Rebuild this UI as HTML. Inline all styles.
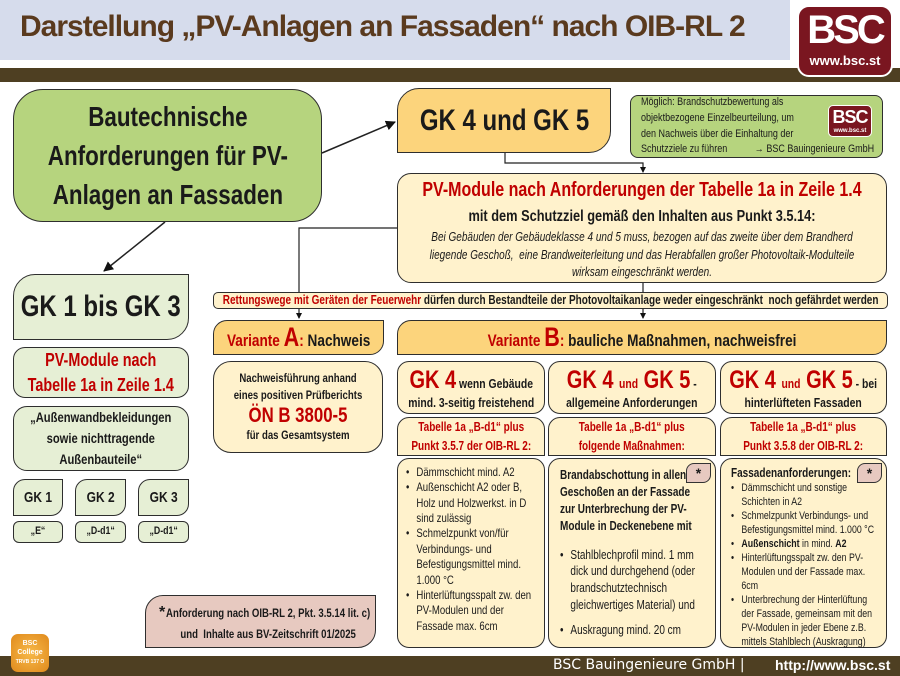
<!DOCTYPE html>
<html><head><meta charset="utf-8">
<style>
*{margin:0;padding:0;box-sizing:border-box}
body{width:900px;height:676px;position:relative;background:#fff;overflow:hidden;font-family:"Liberation Sans",sans-serif;color:#1a1a1a}
.b{position:absolute;border:1.5px solid #2e2e2e;display:flex;flex-direction:column;justify-content:center;align-items:center;text-align:center;line-height:1.2}
.n{width:125%;flex:none;transform:scaleX(.8);transform-origin:center}
.nl{width:125%;flex:none;transform:scaleX(.8);transform-origin:left top;text-align:left}
.r{color:#c00000}
.g{background:#e6efd5}
.y{background:#fff2cc}
.o{background:#fcd47c}
.tl{border-radius:22px 0 22px 0}
ul{list-style:none}
li{position:relative;padding-left:13px}
li:before{content:"•";position:absolute;left:0}
.t{position:absolute}
.st{position:absolute;right:4px;top:4px;width:25px;height:20px;background:#e7c9c0;border:1.2px solid #333;border-radius:8px 0 8px 0;font-size:14px;font-weight:bold;text-align:center;line-height:18px}
</style></head><body>
<div style="position:absolute;left:0;top:0;width:790px;height:60px;background:#d6dcec"></div>
<div class="t" style="left:20px;top:10px;font-weight:bold;font-size:30px;color:#5a3a1e;letter-spacing:-1px">Darstellung „PV-Anlagen an Fassaden“ nach OIB-RL 2</div>
<div style="position:absolute;left:0;top:68px;width:900px;height:14px;background:#4e3f22"></div>
<div style="position:absolute;left:797px;top:5px;width:96px;height:72px;background:#7a1620;border-radius:12px;border:2px solid #fff;color:#fff;text-align:center;font-weight:bold">
<div style="font-size:40px;line-height:46px;letter-spacing:-3px">BSC</div><div style="font-size:13px">www.bsc.st</div></div>

<svg width="900" height="676" style="position:absolute;left:0;top:0">
<defs><marker id="a" markerWidth="10" markerHeight="10" refX="9" refY="5" orient="auto" markerUnits="userSpaceOnUse"><path d="M0,0 L10,5 L0,10z" fill="#111"/></marker>
<marker id="s" markerWidth="6" markerHeight="6" refX="5" refY="3" orient="auto" markerUnits="userSpaceOnUse"><path d="M0,0 L6,3 L0,6z" fill="#111"/></marker></defs>
<g stroke="#222" stroke-width="1.2" fill="none">
<line x1="322" y1="153" x2="395" y2="122" marker-end="url(#a)" stroke-width="1.5"/>
<line x1="165" y1="222" x2="104" y2="271" marker-end="url(#a)" stroke-width="1.5"/>
<polyline points="505,153 505,163 643,163 643,172" marker-end="url(#s)"/>
<polyline points="397,228 299,228 299,318" marker-end="url(#s)"/>
<polyline points="643,283 643,318" marker-end="url(#s)"/>
</g></svg>

<div class="b" style="left:13px;top:89px;width:309px;height:133px;background:#b6d47e;border-radius:30px;font-size:28px;font-weight:bold;line-height:1.4"><div class="n">Bautechnische<br>Anforderungen für PV-<br>Anlagen an Fassaden</div></div>

<div class="b o tl" style="left:397px;top:88px;width:214px;height:65px;font-size:30px;font-weight:bold"><div class="n">GK 4 und GK 5</div></div>

<div class="b" style="left:630px;top:95px;width:253px;height:63px;background:#b6d47e;border-radius:8px;align-items:flex-start;padding-left:10px;font-size:11px;line-height:1.45">
<div class="nl" style="transform:scaleX(.82)">Möglich: Brandschutzbewertung als<br>objektbezogene Einzelbeurteilung, um<br>den Nachweis über die Einhaltung der<br>Schutzziele zu führen &nbsp; &nbsp; &nbsp; &nbsp; &nbsp; → BSC Bauingenieure GmbH</div>
<div style="position:absolute;right:10px;top:9px;width:44px;height:32px;background:#7a1620;border-radius:5px;border:1px solid #fff;color:#fff;font-weight:bold;text-align:center;font-size:18px;line-height:22px;letter-spacing:-1px">BSC<div style="font-size:6px;line-height:6px;letter-spacing:0">www.bsc.st</div></div></div>

<div class="b y" style="left:397px;top:173px;width:490px;height:110px;border-radius:14px;justify-content:flex-start;padding-top:4px">
<div class="n">
<div class="r" style="font-size:20px;font-weight:bold">PV-Module nach Anforderungen der Tabelle 1a in Zeile 1.4</div>
<div style="font-size:16px;font-weight:bold;margin-top:5px">mit dem Schutzziel gemäß den Inhalten aus Punkt 3.5.14:</div>
<div style="font-size:12.5px;font-style:italic;line-height:1.4;margin-top:3px">Bei Gebäuden der Gebäudeklasse 4 und 5 muss, bezogen auf das zweite über dem Brandherd<br>liegende Geschoß, &nbsp;eine Brandweiterleitung und das Herabfallen großer Photovoltaik-Modulteile<br>wirksam eingeschränkt werden.</div></div></div>

<div class="b y" style="left:213px;top:292px;width:675px;height:17px;border-radius:5px;font-size:12.5px;font-weight:bold"><div class="n"><span class="r">Rettungswege mit Geräten der Feuerwehr</span> dürfen durch Bestandteile der Photovoltaikanlage weder eingeschränkt &nbsp;noch gefährdet werden</div></div>

<div class="b o" style="left:213px;top:320px;width:171px;height:35px;font-size:17px;font-weight:bold;border-radius:14px 0 14px 0"><div class="n"><span class="r">Variante <span style="font-size:27px">A</span>:</span> Nachweis</div></div>
<div class="b o" style="left:397px;top:320px;width:490px;height:35px;font-size:17px;font-weight:bold;border-radius:14px 0 14px 0"><div class="n"><span class="r">Variante <span style="font-size:27px">B</span>:</span> bauliche Maßnahmen, nachweisfrei</div></div>

<div class="b y" style="left:213px;top:361px;width:170px;height:92px;border-radius:18px;font-size:12px;font-weight:bold;line-height:1.4"><div class="n">Nachweisführung anhand<br>eines positiven Prüfberichts<div class="r" style="font-size:21px;line-height:1.1">ÖN B 3800-5</div>für das Gesamtsystem</div></div>

<div class="b y" style="left:397px;top:361px;width:148px;height:53px;border-radius:12px;font-size:13px;font-weight:bold"><div class="n"><div><span class="r" style="font-size:25px">GK 4</span> wenn Gebäude</div><div>mind. 3-seitig freistehend</div></div></div>
<div class="b y" style="left:548px;top:361px;width:168px;height:53px;border-radius:12px;font-size:13px;font-weight:bold"><div class="n"><div><span class="r" style="font-size:25px">GK 4 <span style="font-size:13px">und</span> GK 5</span> -</div><div>allgemeine Anforderungen</div></div></div>
<div class="b y" style="left:720px;top:361px;width:167px;height:53px;border-radius:12px;font-size:13px;font-weight:bold"><div class="n"><div><span class="r" style="font-size:25px">GK 4 <span style="font-size:13px">und</span> GK 5</span> - bei</div><div>hinterlüfteten Fassaden</div></div></div>

<div class="b y r" style="left:397px;top:417px;width:148px;height:39px;border-radius:12px 12px 0 0;font-size:12.5px;font-weight:bold;line-height:1.45"><div class="n">Tabelle 1a „B-d1“ plus<br>Punkt 3.5.7 der OIB-RL 2:</div></div>
<div class="b y r" style="left:548px;top:417px;width:168px;height:39px;border-radius:12px 12px 0 0;font-size:12.5px;font-weight:bold;line-height:1.45"><div class="n">Tabelle 1a „B-d1“ plus<br>folgende Maßnahmen:</div></div>
<div class="b y r" style="left:720px;top:417px;width:167px;height:39px;border-radius:12px 12px 0 0;font-size:12.5px;font-weight:bold;line-height:1.45"><div class="n">Tabelle 1a „B-d1“ plus<br>Punkt 3.5.8 der OIB-RL 2:</div></div>

<div class="b y" style="left:397px;top:458px;width:148px;height:190px;border-radius:12px;justify-content:flex-start;align-items:flex-start;padding:6px 4px 0 8px;font-size:12px;line-height:1.28"><ul class="nl">
<li>Dämmschicht mind. A2</li><li>Außenschicht A2 oder B, Holz und Holzwerkst. in D sind zulässig</li><li>Schmelzpunkt von/für Verbindungs- und Befestigungsmittel mind. 1.000 °C</li><li>Hinterlüftungsspalt zw. den PV-Modulen und der Fassade max. 6cm</li></ul></div>

<div class="b y" style="left:548px;top:458px;width:168px;height:190px;border-radius:12px;justify-content:flex-start;align-items:flex-start;padding:8px 4px 0 11px;font-size:12.5px;line-height:1.35">
<div class="nl">
<div style="font-weight:bold">Brandabschottung in allen<br>Geschoßen an der Fassade<br>zur Unterbrechung der PV-<br>Module in Deckenebene mit</div>
<ul style="margin-top:12px"><li>Stahlblechprofil mind. 1 mm dick und durchgehend (oder brandschutztechnisch gleichwertiges Material) und</li><li style="margin-top:8px">Auskragung mind. 20 cm</li></ul></div>
<div class="st">*</div></div>

<div class="b y" style="left:720px;top:458px;width:167px;height:190px;border-radius:12px;justify-content:flex-start;align-items:flex-start;padding:7px 4px 0 10px;font-size:11px;line-height:1.27">
<div class="nl">
<div style="font-weight:bold;font-size:12.5px">Fassadenanforderungen:</div><ul>
<li>Dämmschicht und sonstige Schichten in A2</li><li>Schmelzpunkt Verbindungs- und Befestigungsmittel mind. 1.000 °C</li><li><b>Außenschicht</b> in mind. <b>A2</b></li><li>Hinterlüftungsspalt zw. den PV-Modulen und der Fassade max. 6cm</li><li>Unterbrechung der Hinterlüftung der Fassade, gemeinsam mit den PV-Modulen in jeder Ebene z.B. mittels Stahlblech (Auskragung)</li></ul></div>
<div class="st">*</div></div>

<div class="b g tl" style="left:13px;top:274px;width:176px;height:66px;font-size:30px;font-weight:bold"><div class="n">GK 1 bis GK 3</div></div>
<div class="b g r" style="left:13px;top:347px;width:176px;height:51px;border-radius:12px;font-size:18px;font-weight:bold;line-height:1.35"><div class="n">PV-Module nach<br>Tabelle 1a in Zeile 1.4</div></div>
<div class="b g" style="left:13px;top:406px;width:176px;height:65px;border-radius:14px;font-size:14px;font-weight:bold;line-height:1.5"><div class="n">„Außenwandbekleidungen<br>sowie nichttragende<br>Außenbauteile“</div></div>
<div class="b g" style="left:13px;top:479px;width:50px;height:37px;border-radius:12px 0 12px 0;font-size:15px;font-weight:bold"><div class="n">GK 1</div></div>
<div class="b g" style="left:75px;top:479px;width:51px;height:37px;border-radius:12px 0 12px 0;font-size:15px;font-weight:bold"><div class="n">GK 2</div></div>
<div class="b g" style="left:138px;top:479px;width:51px;height:37px;border-radius:12px 0 12px 0;font-size:15px;font-weight:bold"><div class="n">GK 3</div></div>
<div class="b g" style="left:13px;top:521px;width:50px;height:22px;border-radius:6px;font-size:11px;font-weight:bold"><div class="n">„E“</div></div>
<div class="b g" style="left:75px;top:521px;width:51px;height:22px;border-radius:6px;font-size:11px;font-weight:bold"><div class="n">„D-d1“</div></div>
<div class="b g" style="left:138px;top:521px;width:51px;height:22px;border-radius:6px;font-size:11px;font-weight:bold"><div class="n">„D-d1“</div></div>

<div class="b" style="left:145px;top:595px;width:231px;height:53px;background:#e7c9c0;border-radius:18px 0 18px 0;font-size:12px;font-weight:bold;line-height:1.75;padding-left:16px;padding-top:4px"><div class="n">Anforderung nach OIB-RL 2, Pkt. 3.5.14 lit. c)<br>und &nbsp;Inhalte aus BV-Zeitschrift 01/2025</div>
<div style="position:absolute;left:13px;top:3px;font-size:16px">*</div></div>

<div style="position:absolute;left:0;top:656px;width:900px;height:20px;background:#4e3f22"></div>
<div style="position:absolute;left:11px;top:634px;width:38px;height:38px;border-radius:7px;background:radial-gradient(circle,#f7b94a,#e08a1c);color:#fff;font-size:7px;font-weight:bold;text-align:center;line-height:9px;padding-top:5px">BSC<br>College<br><span style="font-size:5px">TRVB 137 O</span></div>
<div class="t" style="left:553px;top:657px;font-family:'DejaVu Sans','Liberation Sans',sans-serif;font-size:14px;color:#fff">BSC Bauingenieure GmbH |</div>
<div class="t" style="left:775px;top:657px;font-size:14px;color:#fff;font-weight:bold">http://www.bsc.st</div>
</body></html>
